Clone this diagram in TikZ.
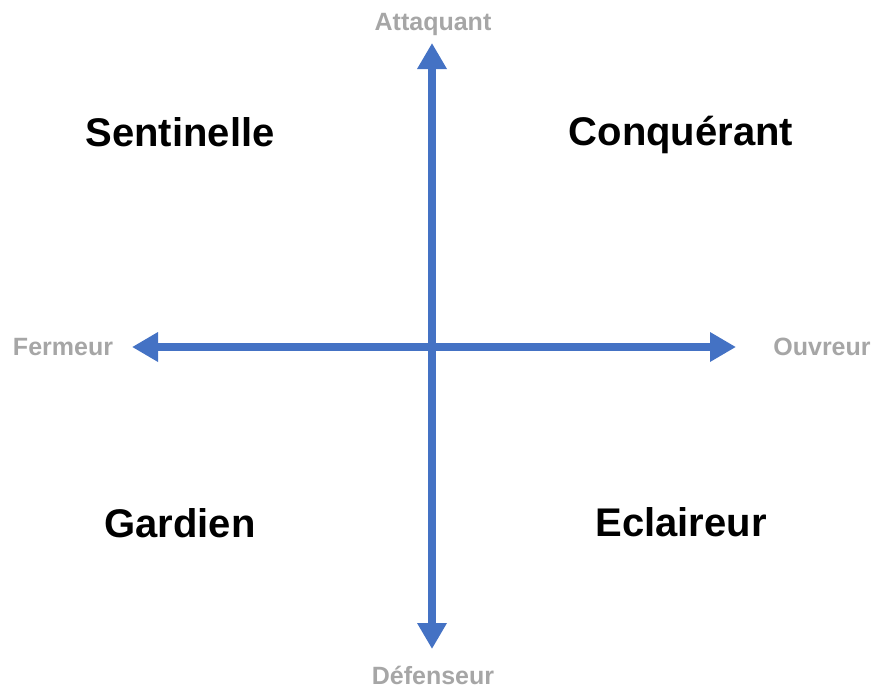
\documentclass[tikz,border=0pt]{standalone}
\usepackage{fontspec}
\setmainfont{Liberation Sans}
\usetikzlibrary{arrows.meta}
\definecolor{axisblue}{RGB}{68,114,196}
\definecolor{labelgray}{RGB}{166,166,166}
\begin{document}
\begin{tikzpicture}[x=1pt,y=-1pt,
  axis/.style={draw=axisblue,line width=8pt,{Triangle[length=26pt,width=28pt]}-{Triangle[length=26pt,width=28pt]}},
  biglabel/.style={anchor=base,font=\fontsize{40}{44}\selectfont\bfseries,text=black,inner sep=0pt},
  smalllabel/.style={anchor=base,font=\fontsize{25}{28}\selectfont\bfseries,text=labelgray,inner sep=0pt}]
\useasboundingbox (0,0) rectangle (875,688);
\coordinate (top) at (432,43);
\coordinate (bottom) at (432,649);
\coordinate (left) at (132,347);
\coordinate (right) at (736,347);
\draw[axis] (bottom) -- (top);
\draw[axis] (left) -- (right);
\node[smalllabel] (att) at (433,30) {Attaquant};
\node[smalllabel] (def) at (433,684) {Défenseur};
\node[smalllabel] (fer) at (63,355) {Fermeur};
\node[smalllabel] (ouv) at (822,355) {Ouvreur};
\node[biglabel] (sen) at (180,146) {Sentinelle};
\node[biglabel] (con) at (681,145) {Conquérant};
\node[biglabel] (gar) at (180,537) {Gardien};
\node[biglabel] (ecl) at (681,536) {Eclaireur};
\end{tikzpicture}
\end{document}
